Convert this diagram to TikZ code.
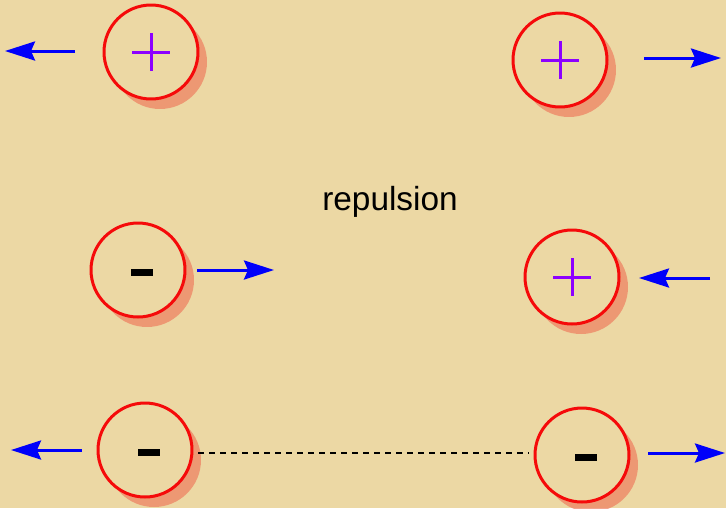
\documentclass[tikz,border=0pt]{standalone}
\usepackage{xcolor}
\usepackage{fontspec}
\setmainfont{Liberation Sans}
\usepackage{tikz}
\usetikzlibrary{positioning, shadows, arrows.meta}

\definecolor{paper}{RGB}{236,216,164}
\definecolor{ring}{RGB}{245,10,10}
\definecolor{glow}{RGB}{238,125,95}
\definecolor{violet}{RGB}{140,0,255}
\definecolor{pushblue}{RGB}{0,0,250}

\tikzset{
  charge/.style={circle, draw=ring, line width=0.06cm, fill=paper,
    minimum size=1.88cm, inner sep=0pt,
    general shadow={shadow xshift=0.18cm, shadow yshift=-0.2cm, fill=glow, opacity=0.7}},
  poscharge/.style={charge, path picture={
    \draw[violet, line width=0.06cm]
      ([xshift=-0.38cm]path picture bounding box.center) -- ++(0.76cm,0)
      ([yshift=0.38cm]path picture bounding box.center) -- ++(0,-0.76cm);}},
  negcharge/.style={charge, path picture={
    \fill[black] ([xshift=-0.14cm,yshift=-0.11cm]path picture bounding box.center)
      rectangle ++(0.44cm,0.14cm);}},
  push/.style={draw=pushblue, line width=0.06cm,
    -{Stealth[length=0.6cm, width=0.38cm, inset=0.08cm]}},
  bond/.style={draw=black, line width=0.045cm, dash pattern=on 0.12cm off 0.1cm,
    shorten <=0.1cm, shorten >=0.1cm}
}

\begin{document}
\begin{tikzpicture}[x=0.02cm, y=-0.02cm]
    \fill[paper] (0,0) rectangle (726,508);
    \useasboundingbox (0,0) rectangle (726,508);

		\node[poscharge] (A) at (151,52) {};
		\node[poscharge] (B) at (560,60) {};
		\node[negcharge] (C) at (138,270) {};
		\node[poscharge] (D) at (572,277) {};
		\node[negcharge] (E) at (145,450) {};
		\node[negcharge] (F) at (582,455) {};

		\node[font=\fontsize{19}{22}\selectfont, anchor=base] (R) at (390,210) {repulsion};

		% arrow ends
		\coordinate (a1) at (75,51);   \coordinate (a2) at (5,51);
		\coordinate (b1) at (644,58);  \coordinate (b2) at (721,58);
		\coordinate (c1) at (197,270); \coordinate (c2) at (274,270);
		\coordinate (d1) at (710,278); \coordinate (d2) at (639,278);
		\coordinate (e1) at (82,450);  \coordinate (e2) at (11,450);
		\coordinate (f1) at (648,453); \coordinate (f2) at (725,453);

		\path
		(a1) edge[push] (a2)
		(b1) edge[push] (b2)
		(c1) edge[push] (c2)
		(d1) edge[push] (d2)
		(e1) edge[push] (e2)
		(f1) edge[push] (f2);

		\draw[bond] (E.east |- 0,453) -- (F.west |- 0,453);
    \end{tikzpicture}
\end{document}
